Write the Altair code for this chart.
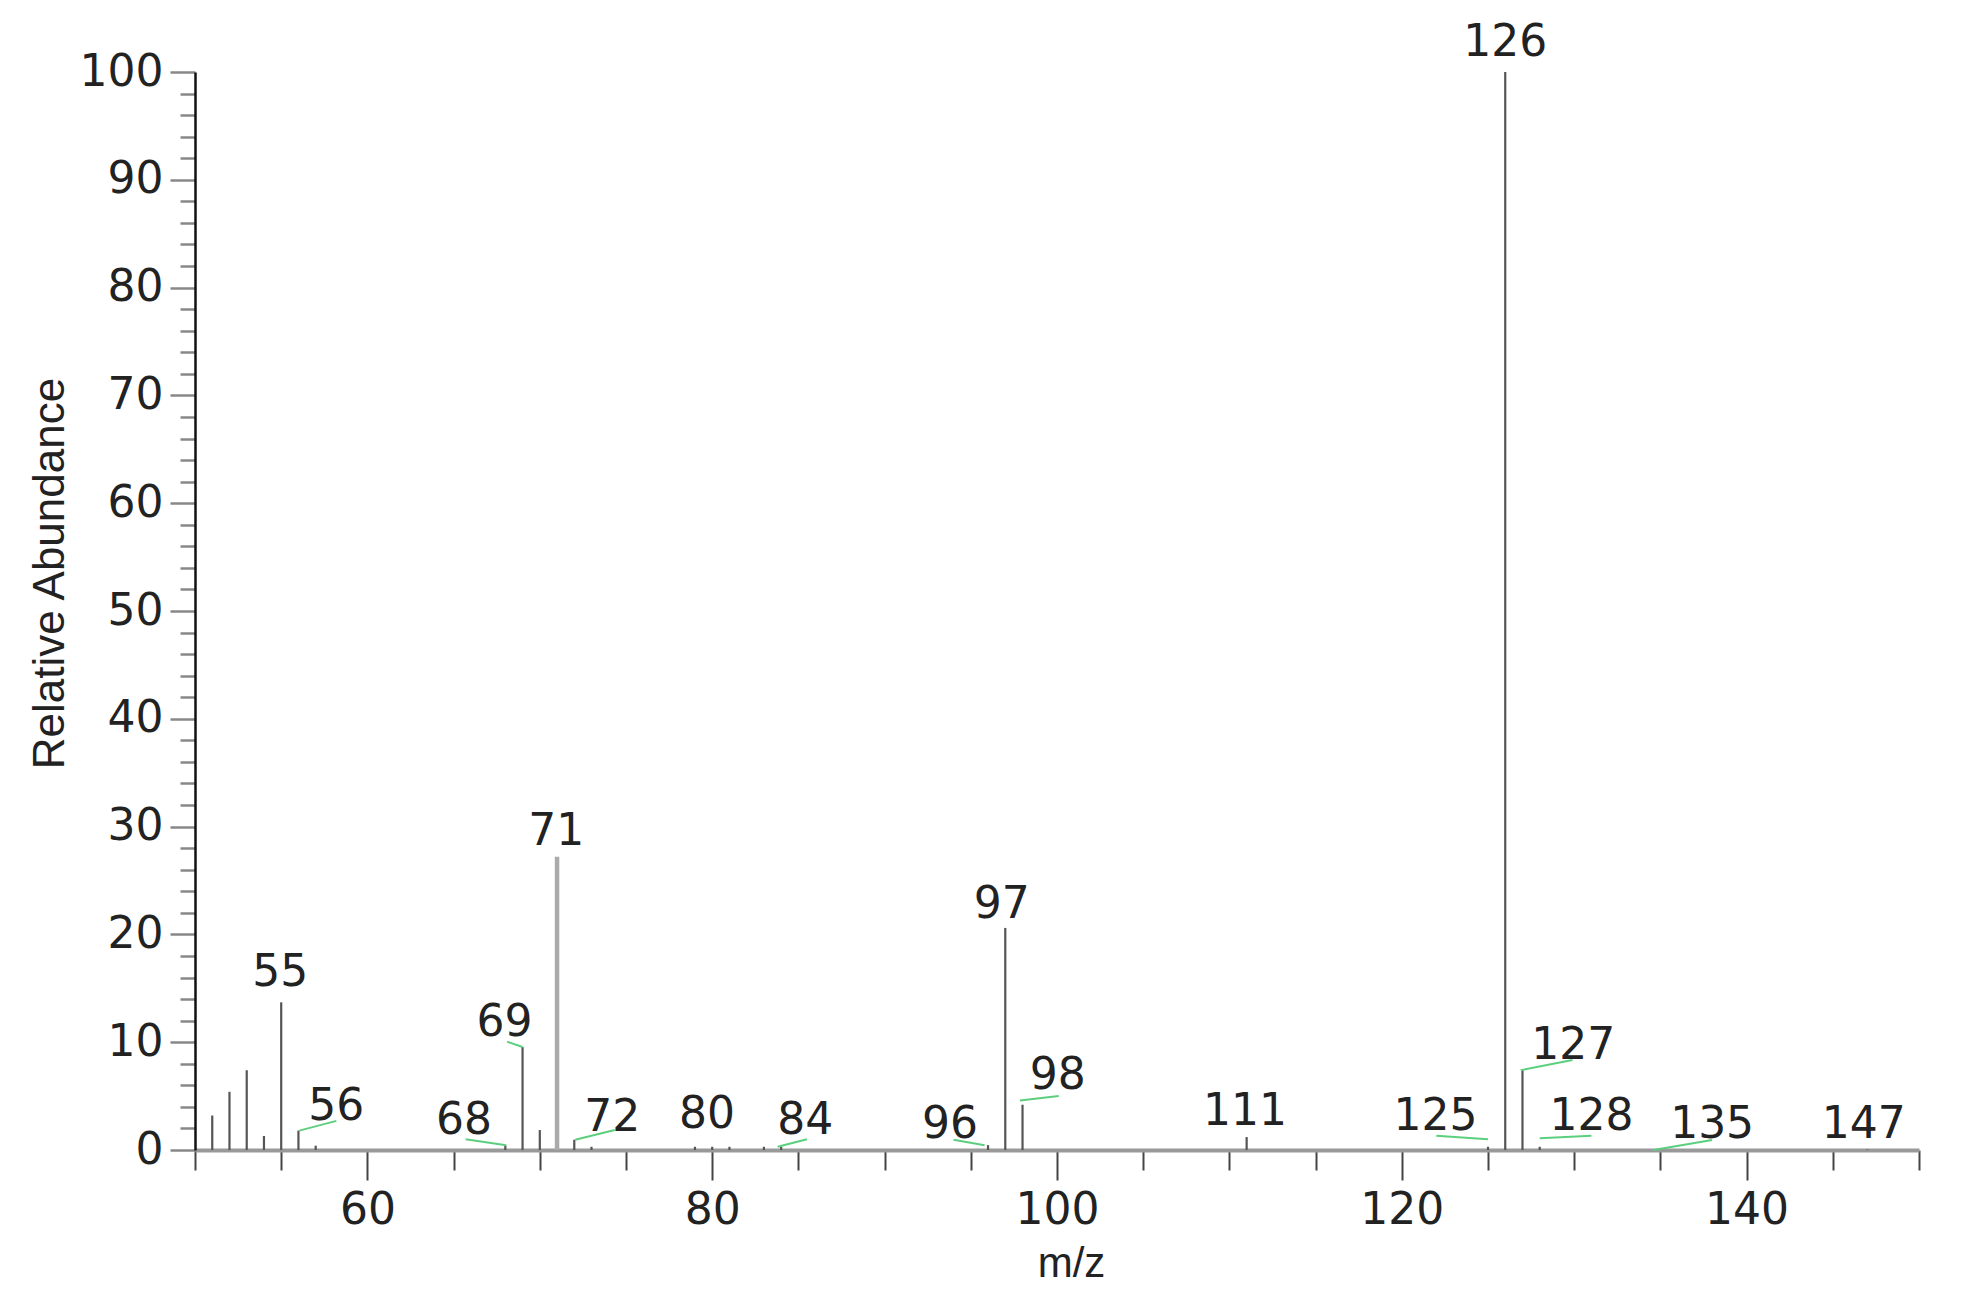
import altair as alt
import pandas as pd

# Peaks (m/z, relative abundance)
mz = [51, 52, 53, 54, 55, 56, 57, 68, 69, 70, 71, 72, 73, 79, 80, 81, 83, 84,
      96, 97, 98, 111, 125, 126, 127, 128, 135, 147]
abundance = [3.2, 5.4, 7.4, 1.3, 13.7, 1.8, 0.4, 0.45, 9.55, 1.85, 27.2, 0.95, 0.3,
             0.3, 0.3, 0.3, 0.3, 0.3, 0.45, 20.6, 4.2, 1.2, 0.3, 100, 7.4, 0.3, 0.05, 0.05]

# Peak labels (text, anchor m/z, anchor abundance)
label_text = ["55", "56", "68", "69", "71", "72", "80", "84", "96", "97", "98",
              "111", "125", "126", "127", "128", "135", "147"]
label_mz = [54.95, 58.2, 65.6, 67.95, 70.95, 74.2, 79.7, 85.4, 93.8, 96.8, 100.05,
            110.9, 121.95, 126.0, 129.95, 131.0, 138.0, 146.8]
label_ab = [15.2, 2.8, 1.45, 10.6, 28.3, 1.8, 2.0, 1.45, 1.1, 21.5, 5.7,
            2.35, 1.9, 101.5, 8.4, 1.9, 1.1, 1.1]

# Leader lines joining offset labels to their peaks
leader_x0 = [56.05, 65.7, 68.1, 72.05, 83.8, 94.0, 97.85, 122.0, 126.9, 128.0, 134.6]
leader_y0 = [1.8, 1.0, 10.05, 0.95, 0.3, 0.95, 4.6, 1.33, 7.4, 1.08, 0.0]
leader_x1 = [58.2, 68.05, 69.0, 74.35, 85.5, 95.8, 100.1, 125.0, 129.9, 131.0, 138.0]
leader_y1 = [2.7, 0.45, 9.55, 1.85, 1.0, 0.45, 5.0, 1.0, 8.35, 1.33, 0.93]

x_ticks = list(range(50, 151, 5))
y_ticks = list(range(0, 101, 2))

peaks = pd.DataFrame({"mz": mz, "ab": abundance})
labels = pd.DataFrame({"text": label_text, "mz": label_mz, "ab": label_ab})
leaders = pd.DataFrame({"mz": leader_x0, "ab": leader_y0,
                        "mz2": leader_x1, "ab2": leader_y1})

FONT = "Liberation Sans"
WIDE = "DejaVu Sans"
FS = 44

x_scale = alt.Scale(domain=[50, 150], nice=False, zero=False)
y_scale = alt.Scale(domain=[0, 100], nice=False)

x_axis = alt.Axis(
    values=x_ticks,
    labelExpr="datum.value % 20 === 0 ? datum.label : ''",
    tickSize={"condition": {"test": "datum.value % 20 === 0", "value": 30}, "value": 20},
    tickColor="#444", tickWidth=2,
    domainColor="#999", domainWidth=4,
    labelFont=WIDE, labelFontSize=FS, labelColor="#222", labelPadding=8,
    labelOverlap=False, labelFlush=False,
    title="m/z", titleFont=FONT, titleFontSize=42, titleFontWeight="normal",
    titleColor="#222", titleX=876, titleY=126, titleAlign="center",
    titleBaseline="alphabetic",
    grid=False,
)
y_axis = alt.Axis(
    values=y_ticks,
    labelExpr="datum.value % 10 === 0 ? datum.label : ''",
    tickSize={"condition": {"test": "datum.value % 10 === 0", "value": 25}, "value": 15},
    tickColor="#888", tickWidth=2.5,
    domainColor="#111", domainWidth=2.5,
    labelFont=WIDE, labelFontSize=FS, labelColor="#222", labelPadding=7,
    labelOverlap=False, labelFlush=False,
    title="Relative Abundance", titleFont=FONT, titleFontSize=FS,
    titleFontWeight="normal", titleColor="#222",
    titleX=-132, titleY=501, titleAngle=-90, titleAlign="center",
    titleBaseline="alphabetic",
    grid=False,
)

X = alt.X("mz:Q", scale=x_scale, axis=x_axis)
Y = alt.Y("ab:Q", scale=y_scale, axis=y_axis)

bars = alt.Chart(peaks).mark_rule().encode(
    x=X, y=Y, y2=alt.datum(0),
    color=alt.condition("datum.mz == 71", alt.value("#aaaaaa"), alt.value("#555555")),
    strokeWidth=alt.condition("datum.mz == 71", alt.value(4.5), alt.value(2.2)),
)

lead = alt.Chart(leaders).mark_rule(color="#5ccf7f", strokeWidth=2).encode(
    x=X, y=Y, x2="mz2:Q", y2="ab2:Q",
)

text = alt.Chart(labels).mark_text(
    font=WIDE, fontSize=FS, color="#222", align="center", baseline="alphabetic",
).encode(x=X, y=Y, text="text:N")

chart = alt.layer(bars, lead, text).properties(
    width=1724, height=1078,
    autosize=alt.AutoSizeParams(type="none"),
    padding={"left": 187, "top": 64, "right": 40, "bottom": 145},
    background="white",
).configure_view(stroke=None)

chart.save("out.html", embed_options={"renderer": "svg", "actions": False})
